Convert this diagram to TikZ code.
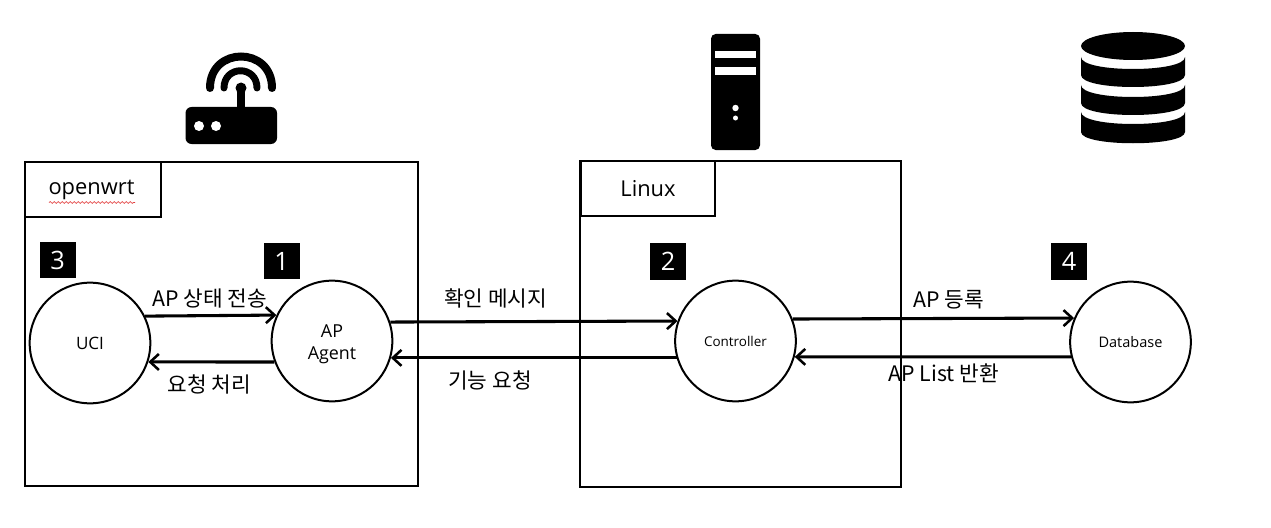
\documentclass[tikz,border=0pt]{standalone}
\usepackage{fontspec}
\setmainfont{Open Sans}
\newfontfamily\krfont{Noto Sans CJK KR}
\usetikzlibrary{arrows.meta,decorations.pathmorphing}
\definecolor{wavered}{RGB}{225,60,60}
\tikzset{
  x=0.75pt,y=-0.75pt,
  frame/.style={draw=black,line width=1.5pt,fill=none},
  tabbox/.style={draw=black,line width=1.5pt,fill=white,rectangle,inner sep=0pt},
  numbox/.style={fill=black,text=white,rectangle,inner sep=0pt,minimum width=27pt,minimum height=27.5pt,font=\fontsize{19}{21}\selectfont},
  proc/.style={draw=black,line width=1.5pt,fill=white,circle,inner sep=0pt,minimum size=90.5pt,align=center},
  flow/.style={line width=2.3pt,-{Straight Barb[length=6.5pt,width=12pt,line width=1.9pt]}},
  lab/.style={font=\krfont\fontsize{16}{18}\selectfont,inner sep=0pt},
  tabtext/.style={font=\fontsize{16.4}{18}\selectfont,inner sep=0pt},
  icon/.style={fill=black,draw=none},
  hole/.style={fill=white,draw=none},
}
\newcommand{\dbband}[4]{%
  \fill[icon] (1081,#1) .. controls (1081,#2) and (1185,#2) .. (1185,#1) -- (1185,#3)
    .. controls (1185,#4) and (1081,#4) .. (1081,#3) -- cycle;}
\begin{document}
\begin{tikzpicture}
\useasboundingbox (0,0) rectangle (1271,528);
\fill[white] (0,0) rectangle (1271,528);
% frames
\draw[frame] (25,162) rectangle (418,486);
\draw[frame] (580,161) rectangle (901,487);
\node[tabbox,minimum width=102pt,minimum height=41pt] (tabA) at (93,189.5) {};
\node[tabbox,minimum width=100.5pt,minimum height=41pt] (tabB) at (648,188.5) {};
\node[tabtext] (txtA) at (91.5,190) {openwrt};
\node[tabtext] (txtB) at (648,189) {Linux};
\draw[wavered,line width=0.5pt,decorate,decoration={snake,amplitude=0.7pt,segment length=3pt}] (49,202.5) -- (135,202.5);
% number tags
\node[numbox] (n3) at (57.5,260) {3};
\node[numbox] (n1) at (281.5,261) {1};
\node[numbox] (n2) at (668,261.5) {2};
\node[numbox] (n4) at (1069,261.5) {4};
% processes
\node[proc,font=\fontsize{12.8}{15}\selectfont] (uci) at (90,343) {UCI};
\node[proc,font=\fontsize{13.4}{16}\selectfont] (agent) at (332,341) {\rule{0pt}{14.5pt}AP\\Agent};
\node[proc,font=\fontsize{10.1}{12}\selectfont] (ctrl) at (735.5,341) {Controller};
\node[proc,font=\fontsize{10.9}{12}\selectfont] (db) at (1130.5,342) {Database};
% connectors
\draw[flow] (uci.26.3) -- (agent.155.6);
\draw[flow] (agent.200.3) -- (uci.-18.1);
\draw[flow] (agent.18.3) -- (ctrl.161.5);
\draw[flow] (ctrl.196.5) -- (agent.-16.3);
\draw[flow] (ctrl.21.5) -- (db.157.5);
\draw[flow] (db.194.5) -- (ctrl.-15.5);
% labels
\node[lab] (l1) at (209.5,299) {AP 상태 전송};
\node[lab] (l2) at (209.5,384) {요청 처리};
\node[lab] (l3) at (495.5,298) {확인 메시지};
\node[lab] (l4) at (490,380) {기능 요청};
\node[lab] (l5) at (948.5,300) {AP 등록};
\node[lab] (l6) at (943.5,373) {AP List 반환};
% router icon
\fill[icon,rounded corners=4.5pt] (185.5,107) rectangle (277,144);
\fill[icon] (237,85) rectangle (245,110);
\fill[icon] (241,88) circle (5.5);
\draw[line width=6pt,line cap=round] (210,88) .. controls (210,46) and (272,46) .. (272,88);
\draw[line width=5.2pt,line cap=round] (224,88) .. controls (224,65) and (257,65) .. (257,88);
\fill[hole] (199,126) circle (5);
\fill[hole] (216,126) circle (5);
% server icon
\fill[icon,rounded corners=3.5pt] (711,34) rectangle (760,150);
\fill[hole] (715,51) rectangle (756,58.5);
\fill[hole] (715,67) rectangle (756,75);
\fill[hole] (735.5,108) circle (3.2);
\fill[hole] (735.5,118) circle (2.5);
% database icon
\fill[icon] (1133,46) ellipse [x radius=52,y radius=14];
\dbband{57}{73}{75}{91}
\dbband{85}{101}{103}{119}
\dbband{112}{128}{132}{147}
\end{tikzpicture}
\end{document}
